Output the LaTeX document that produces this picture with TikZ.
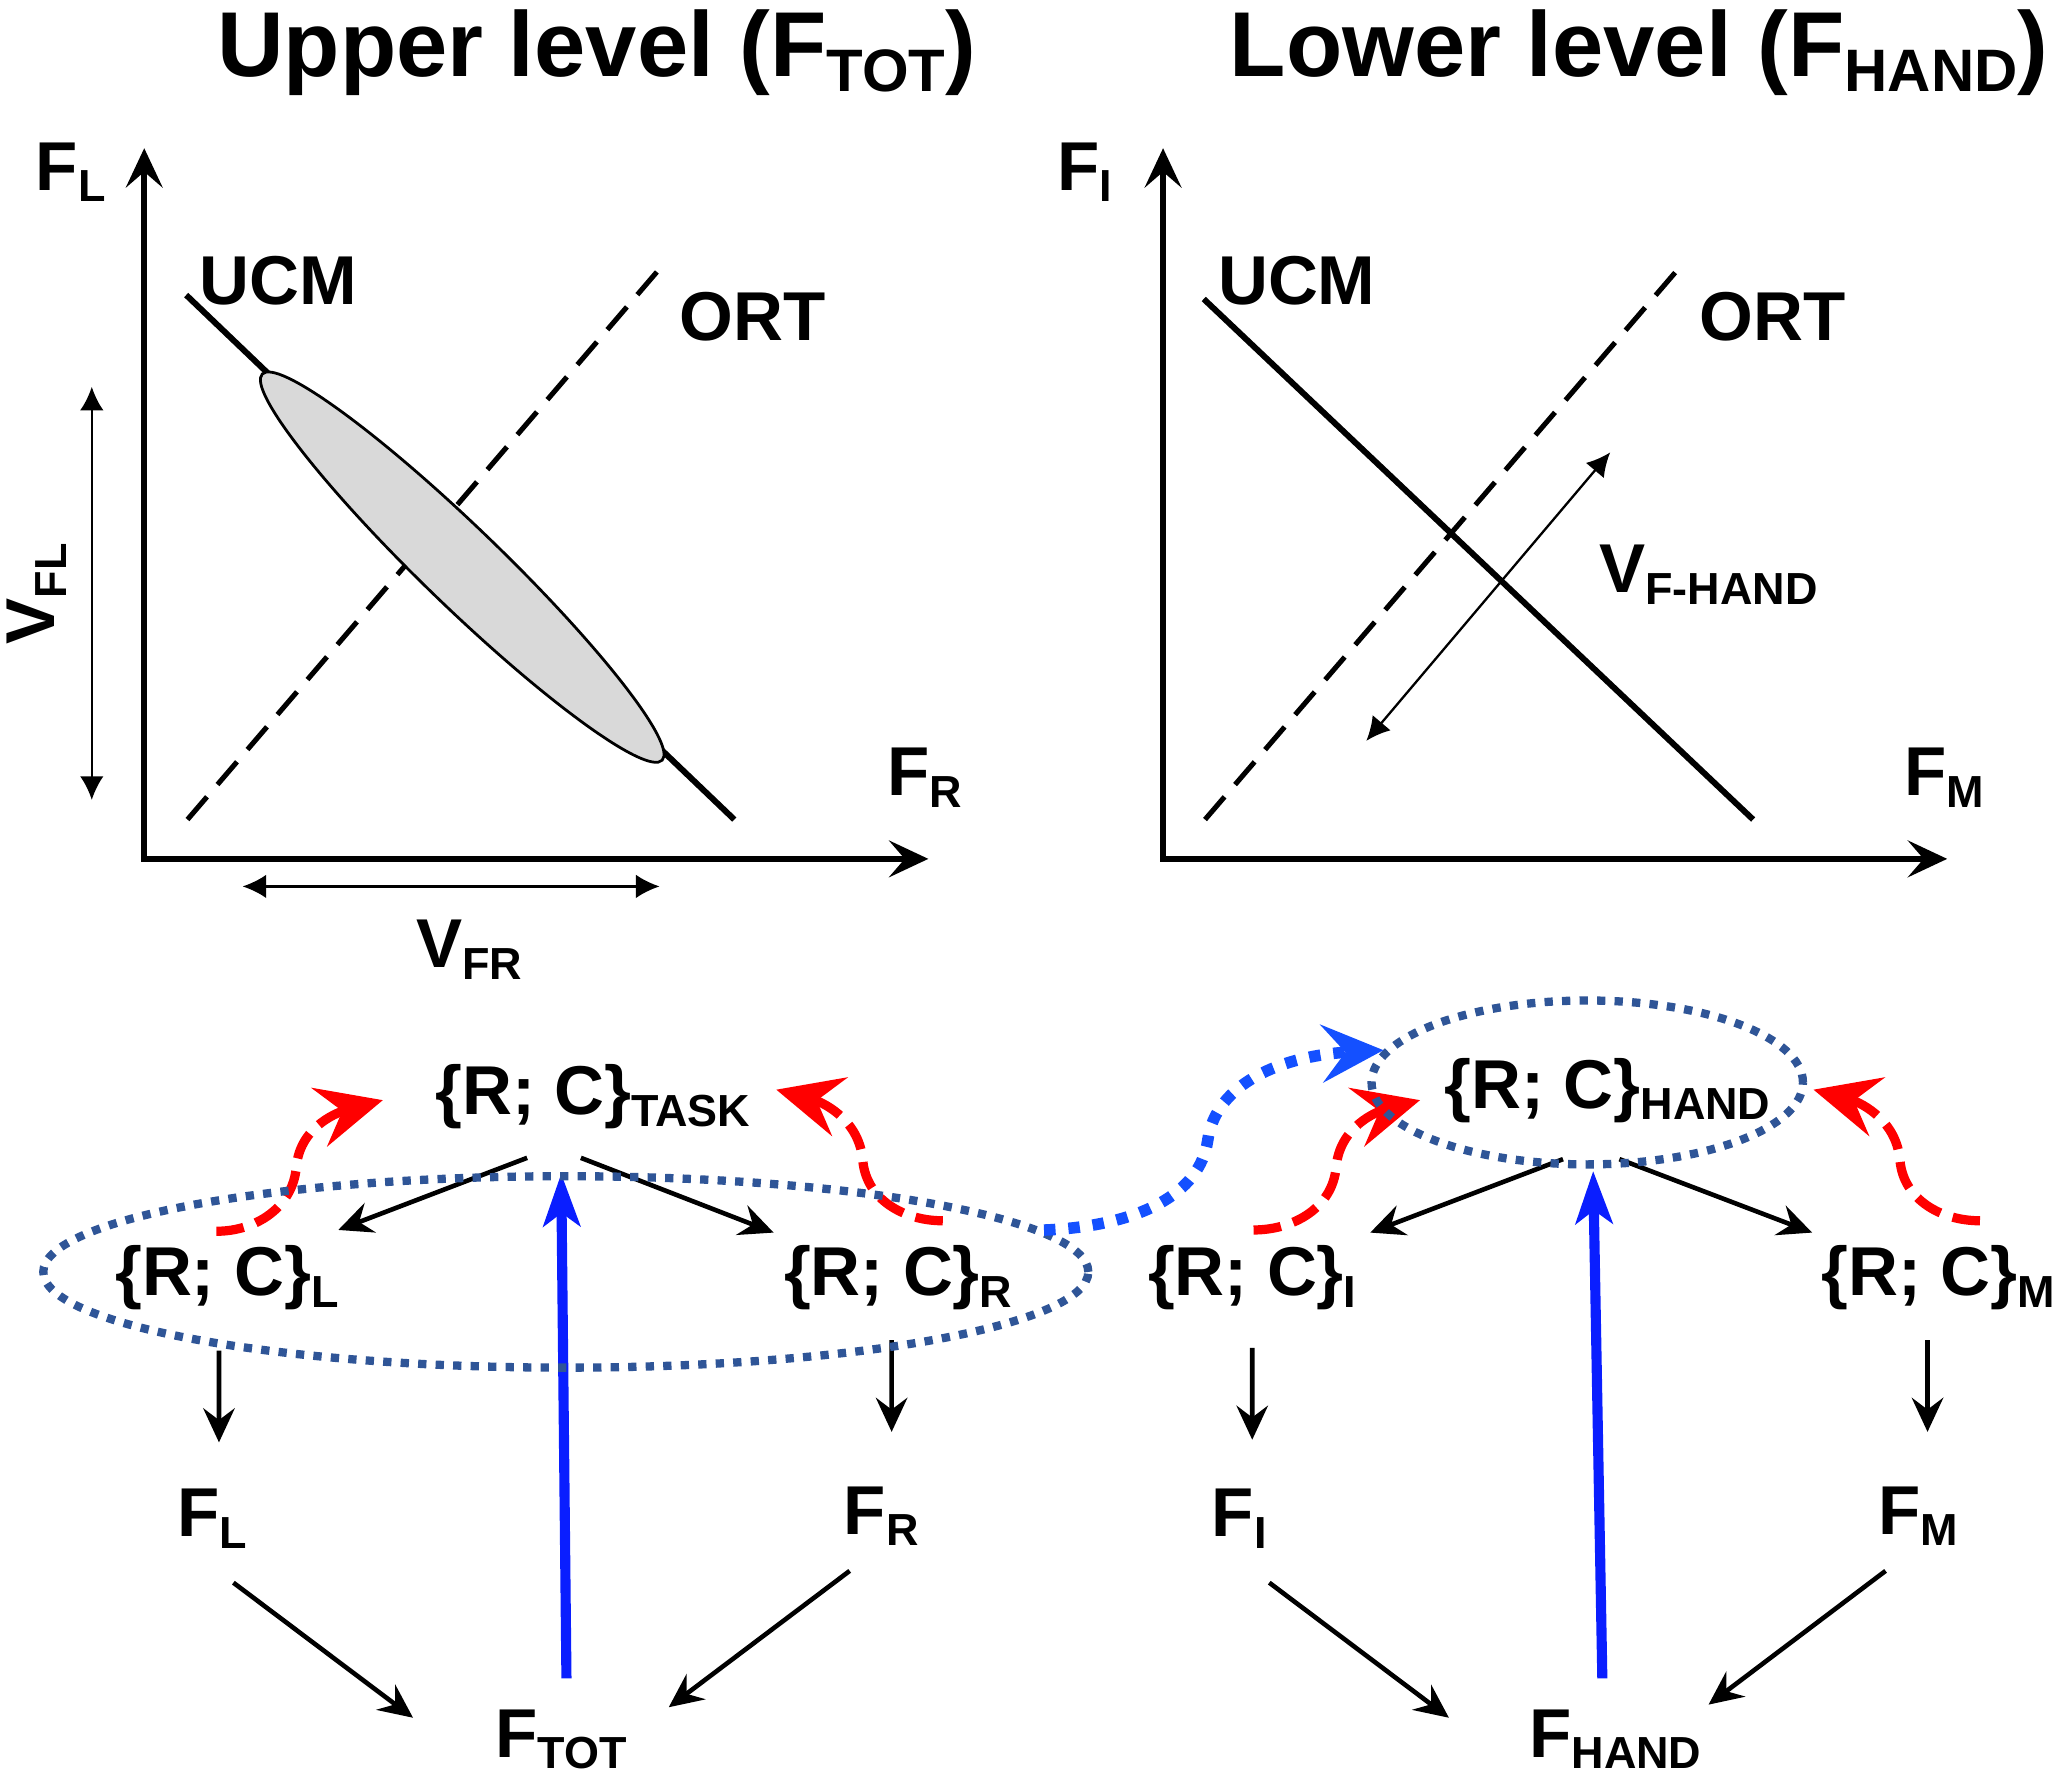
\documentclass[tikz,border=0pt]{standalone}
\usepackage{fontspec}
\setmainfont{Liberation Sans}
\usepackage{graphicx}
\usepackage{xcolor}
\usetikzlibrary{arrows.meta, shapes.geometric}

\definecolor{grpblue}{HTML}{2F5597}
\definecolor{fbblue}{HTML}{0A1EFF}
\definecolor{linkblue}{HTML}{1450FF}
\newcommand{\low}[1]{\raisebox{-0.17em}{\scalebox{0.65}{#1}}}

\tikzset{
    lbl/.style={font=\fontsize{15}{18}\selectfont\bfseries, inner sep=0pt, anchor=base},
    ttl/.style={font=\fontsize{20}{24}\selectfont\bfseries, inner sep=0pt, anchor=base},
    axis/.style={line width=1.3pt, {Stealth[length=3mm, width=2.8mm, inset=1.2mm]}-{Stealth[length=3mm, width=2.8mm, inset=1.2mm]}},
    ucm/.style={line width=1.3pt},
    ort/.style={line width=1.1pt, dash pattern=on 6.5pt off 3.5pt},
    varr/.style={line width=0.5pt, {Latex[length=1.8mm, width=1.8mm]}-{Latex[length=1.8mm, width=1.8mm]}},
    arr/.style={line width=1pt, -{Stealth[length=2.6mm, width=2.4mm, inset=0.9mm]}},
    fb/.style={fbblue, line width=2.2pt, -{Stealth[length=4mm, width=2.8mm, inset=1mm]}},
    fbk/.style={red, line width=2pt, dash pattern=on 6pt off 2.8pt, -{Stealth[length=5mm, width=4.6mm, inset=1.8mm]}},
    grp/.style={ellipse, draw=grpblue, line width=1.8pt, dash pattern=on 1.8pt off 2pt, inner sep=0pt},
    link/.style={linkblue, line width=2.5pt, dash pattern=on 2.5pt off 2.8pt, -{Stealth[length=4.7mm, width=4.4mm, inset=1.8mm]}}
}

\begin{document}
\begin{tikzpicture}
        \useasboundingbox (0,0) rectangle (15.68,-13.53);

        \node[ttl] (ttlU) at (4.55,-0.58) {Upper level (F\low{TOT})};
        \node[ttl] (ttlD) at (12.50,-0.58) {Lower level (F\low{HAND})};

        \draw[axis] (1.10,-1.13) -- (1.10,-6.55) -- (7.08,-6.55);
        \draw[ucm] (1.42,-2.25) -- (5.60,-6.25);
        \draw[ort] (1.43,-6.25) -- (5.03,-2.05);
        \draw[fill=black!15, line width=0.6pt, rotate around={-44:(3.525,-4.325)}] (3.525,-4.325) ellipse (2.12 and 0.30);
        \draw[varr] (0.70,-2.95) -- (0.70,-6.10);
        \draw[varr] (1.85,-6.76) -- (5.03,-6.76);
        \node[lbl] (axL) at (0.54,-1.45) {F\low{L}};
        \node[lbl] (ucmL) at (2.12,-2.32) {UCM};
        \node[lbl] (ortL) at (5.74,-2.60) {ORT};
        \node[lbl] (axR) at (7.05,-6.07) {F\low{R}};
        \node[lbl, anchor=center, rotate=90] (vfl) at (0.28,-4.53) {V\low{FL}};
        \node[lbl] (vfr) at (3.58,-7.38) {V\low{FR}};

        \draw[axis] (8.87,-1.13) -- (8.87,-6.55) -- (14.85,-6.55);
        \draw[ucm] (9.18,-2.28) -- (13.37,-6.25);
        \draw[ort] (9.19,-6.25) -- (12.80,-2.05);
        \draw[varr] (10.42,-5.65) -- (12.28,-3.45);
        \node[lbl] (axI) at (8.27,-1.45) {F\low{I}};
        \node[lbl] (ucmR) at (9.89,-2.32) {UCM};
        \node[lbl] (ortR) at (13.52,-2.60) {ORT};
        \node[lbl] (vfh) at (13.03,-4.52) {V\low{F-HAND}};
        \node[lbl] (axM) at (14.83,-6.07) {F\low{M}};

        \node[lbl] (task) at (4.52,-8.50) {\{R; C\}\low{TASK}};
        \node[lbl] (rcl) at (1.73,-9.88) {\{R; C\}\low{L}};
        \node[lbl] (rcr) at (6.85,-9.88) {\{R; C\}\low{R}};
        \node[lbl] (fl) at (1.62,-11.72) {F\low{L}};
        \node[lbl] (fr) at (6.72,-11.70) {F\low{R}};
        \node[lbl] (ftot) at (4.28,-13.40) {F\low{TOT}};

        \node[lbl] (hand) at (12.26,-8.45) {\{R; C\}\low{HAND}};
        \node[lbl] (rci) at (9.55,-9.88) {\{R; C\}\low{I}};
        \node[lbl] (rcm) at (14.78,-9.88) {\{R; C\}\low{M}};
        \node[lbl] (fi) at (9.45,-11.72) {F\low{I}};
        \node[lbl] (fm) at (14.63,-11.70) {F\low{M}};
        \node[lbl] (fhand) at (12.32,-13.40) {F\low{HAND}};

        \draw[arr] ([shift={(-0.50,-0.33)}]task.base) -- ([shift={(0.85,0.50)}]rcl.base);
        \draw[arr] ([shift={(-0.09,-0.33)}]task.base) -- ([shift={(-0.95,0.48)}]rcr.base);
        \draw[arr] ([shift={(-0.06,-0.42)}]rcl.base) -- ([shift={(0.05,0.72)}]fl.base);
        \draw[arr] ([shift={(-0.05,-0.34)}]rcr.base) -- ([shift={(0.08,0.78)}]fr.base);
        \draw[arr] ([shift={(0.16,-0.35)}]fl.base) -- ([shift={(-1.13,0.30)}]ftot.base);
        \draw[arr] ([shift={(-0.24,-0.28)}]fr.base) -- ([shift={(0.82,0.38)}]ftot.base);
        \draw[fb] ([shift={(0.04,0.60)}]ftot.base) -- ([shift={(-0.24,-0.45)}]task.base);

        \draw[arr] ([shift={(-0.34,-0.39)}]hand.base) -- ([shift={(0.90,0.48)}]rci.base);
        \draw[arr] ([shift={(0.09,-0.39)}]hand.base) -- ([shift={(-0.96,0.48)}]rcm.base);
        \draw[arr] ([shift={(0,-0.40)}]rci.base) -- ([shift={(0.10,0.74)}]fi.base);
        \draw[arr] ([shift={(-0.08,-0.34)}]rcm.base) -- ([shift={(0.07,0.78)}]fm.base);
        \draw[arr] ([shift={(0.23,-0.35)}]fi.base) -- ([shift={(-1.27,0.30)}]fhand.base);
        \draw[arr] ([shift={(-0.25,-0.28)}]fm.base) -- ([shift={(0.71,0.40)}]fhand.base);
        \draw[fb] ([shift={(-0.10,0.60)}]fhand.base) -- ([shift={(-0.11,-0.48)}]hand.base);

        \draw[fbk] ([shift={(-0.08,0.49)}]rcl.base) to[out=0,in=-95] (2.26,-8.90) to[out=85,in=195] ([shift={(-1.60,0.11)}]task.base);
        \draw[fbk] ([shift={(0.34,0.57)}]rcr.base) to[out=180,in=-85] (6.58,-8.85) to[out=95,in=-15] ([shift={(1.40,0.19)}]task.base);
        \draw[fbk] ([shift={(0.01,0.50)}]rci.base) to[out=0,in=-95] (10.19,-8.90) to[out=85,in=195] ([shift={(-1.43,0.06)}]hand.base);
        \draw[fbk] ([shift={(0.32,0.57)}]rcm.base) to[out=180,in=-85] (14.49,-8.85) to[out=95,in=-15] ([shift={(1.57,0.14)}]hand.base);

        \node[grp, minimum width=7.97cm, minimum height=1.46cm] (grpL) at (4.315,-9.70) {};
        \node[grp, minimum width=3.29cm, minimum height=1.25cm] (grpR) at (12.105,-8.255) {};
        \draw[link] (grpL.5) .. controls (8.70,-9.35) and (9.15,-9.10) .. (9.21,-8.70) .. controls (9.27,-8.25) and (9.80,-8.05) .. (grpR.171);
    \end{tikzpicture}
\end{document}
